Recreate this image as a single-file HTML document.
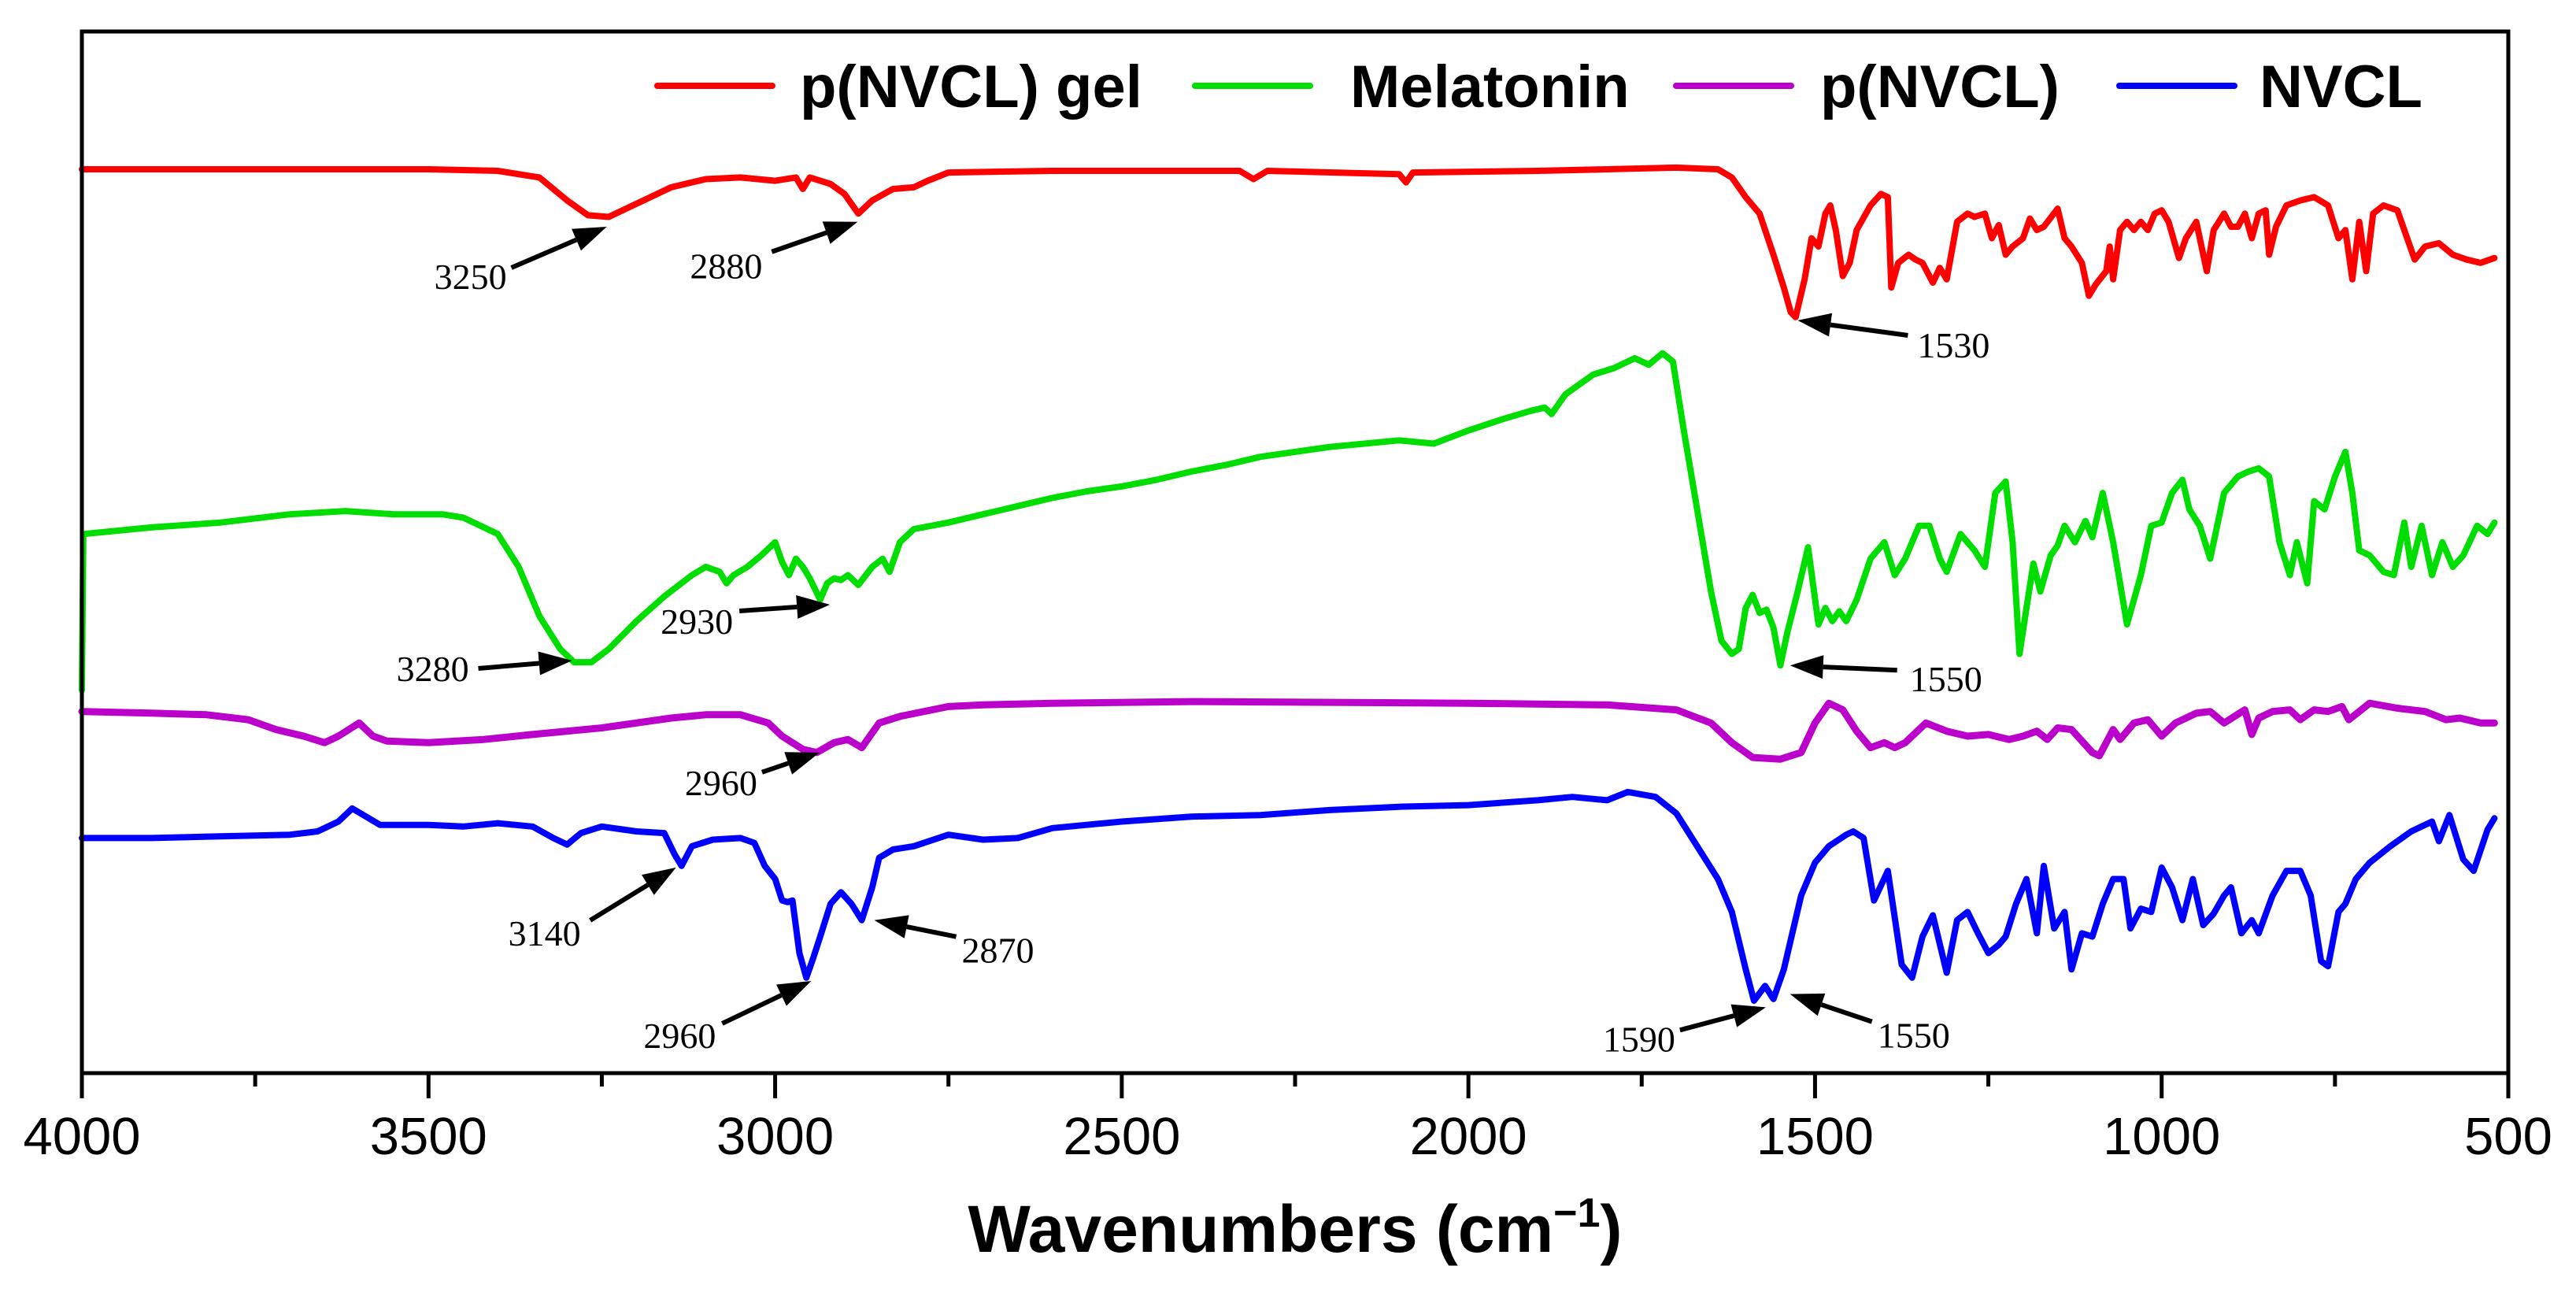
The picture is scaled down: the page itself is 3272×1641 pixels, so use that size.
<!DOCTYPE html>
<html><head><meta charset="utf-8"><style>
html,body{margin:0;padding:0;background:#fff;}
svg{display:block;}
</style></head>
<body>
<svg id="chart" width="3272" height="1641" viewBox="0 0 3272 1641" xmlns="http://www.w3.org/2000/svg">
<rect x="0" y="0" width="3272" height="1641" fill="#fff"/>
<g id="series"></g>
<g id="annots"></g>
<rect x="104" y="40" width="3082" height="1323" fill="none" stroke="#000" stroke-width="5"/>
<g id="axis"></g>
<g font-family="Liberation Sans, Arial, sans-serif" font-weight="bold" font-size="76">
 <line x1="835" y1="109" x2="981" y2="109" stroke="#ff0000" stroke-width="8" stroke-linecap="round"/>
 <text x="1016" y="136">p(NVCL) gel</text>
 <line x1="1518" y1="109" x2="1664" y2="109" stroke="#00dd00" stroke-width="8" stroke-linecap="round"/>
 <text x="1715" y="136">Melatonin</text>
 <line x1="2129" y1="109" x2="2275" y2="109" stroke="#bb00cc" stroke-width="8" stroke-linecap="round"/>
 <text x="2312" y="136">p(NVCL)</text>
 <line x1="2692" y1="109" x2="2838" y2="109" stroke="#0000ff" stroke-width="8" stroke-linecap="round"/>
 <text x="2870" y="136">NVCL</text>
</g>
<text x="1645" y="1590" text-anchor="middle" font-family="Liberation Sans, Arial, sans-serif" font-weight="bold" font-size="84">Wavenumbers (cm<tspan font-size="52" dy="-32">−1</tspan><tspan dy="32">)</tspan></text>
</svg>
<script>
// Offset signal values (inverted vertical axis, arbitrary units)
const redWn = [4000,3800,3500,3400,3340,3300,3270,3240,3200,3150,3100,3050,3000,2970,2960,2950,2920,2900,2880,2860,2830,2800,2780,2750,2600,2400,2330,2310,2290,2100,2090,2080,1900,1800,1700,1640,1620,1600,1580,1560,1545,1535,1528,1515,1505,1495,1485,1478,1470,1460,1450,1440,1420,1405,1395,1390,1380,1365,1355,1345,1330,1320,1310,1295,1280,1270,1255,1245,1235,1225,1215,1200,1190,1180,1170,1150,1140,1130,1115,1105,1095,1080,1075,1070,1060,1050,1040,1030,1020,1010,1000,990,975,965,950,935,925,910,900,890,880,870,860,850,845,835,820,800,780,760,745,735,725,715,705,695,680,660,650,635,620,600,580,560,540,520];
const redVal = [103,103,103,104,108,122,131,132,124,114,109,108,110,108,115,108,112,118,130,122,115,114,110,105,104,104,104,109,104,106,111,105,104,103,102,103,108,120,130,155,175,190,193,170,145,150,130,125,140,168,160,140,125,118,120,175,160,155,158,160,172,163,170,135,130,132,130,145,137,155,150,145,133,140,138,127,145,150,160,180,173,165,150,170,140,135,140,135,140,130,128,135,157,145,135,165,140,130,138,138,130,145,130,128,155,138,125,122,120,125,145,140,170,135,165,130,125,128,140,158,150,148,155,158,160,157];
const greenWn = [4000,3998,3900,3800,3700,3620,3550,3480,3450,3400,3370,3340,3310,3290,3265,3240,3200,3160,3120,3100,3080,3070,3060,3040,3020,3000,2990,2980,2970,2960,2950,2935,2925,2915,2905,2895,2880,2860,2845,2835,2820,2800,2750,2700,2650,2600,2550,2500,2450,2400,2350,2300,2250,2200,2150,2100,2050,2000,1950,1910,1890,1880,1860,1820,1790,1760,1740,1720,1705,1690,1670,1650,1635,1620,1610,1600,1590,1580,1570,1560,1550,1540,1525,1510,1495,1485,1475,1465,1455,1440,1420,1400,1385,1370,1350,1335,1320,1310,1290,1270,1255,1240,1225,1215,1205,1195,1185,1175,1160,1150,1140,1125,1110,1100,1085,1070,1050,1030,1015,1000,985,970,960,945,930,910,890,875,860,845,830,815,805,790,780,765,750,735,725,715,700,680,665,650,640,625,610,595,580,565,545,530,520];
const greenVal = [420,325,321,318,313,311,313,313,315,325,345,375,395,403,403,395,378,363,350,345,348,355,350,345,338,330,342,350,340,345,352,365,355,352,353,350,356,345,340,348,330,322,318,313,308,303,299,296,292,287,283,278,275,272,270,268,270,262,255,250,248,252,240,228,224,218,222,215,220,260,310,360,390,398,395,370,362,373,371,382,405,385,360,333,380,370,378,372,378,365,340,330,350,340,320,320,340,348,325,335,345,300,293,330,398,370,343,360,338,332,320,330,317,327,300,330,380,350,320,318,300,292,310,320,340,300,290,287,285,290,330,350,330,355,305,310,290,275,300,335,338,348,350,318,345,320,350,330,345,338,320,325,318];
const purpleWn = [4000,3900,3820,3760,3720,3680,3650,3630,3600,3580,3560,3500,3420,3350,3250,3150,3100,3050,3010,2990,2960,2940,2915,2895,2875,2850,2820,2750,2700,2600,2400,2000,1800,1700,1650,1620,1590,1550,1520,1500,1480,1460,1440,1420,1400,1385,1370,1340,1310,1280,1250,1220,1200,1180,1165,1150,1130,1100,1090,1070,1060,1040,1020,1000,980,950,930,910,880,870,860,840,815,800,780,760,740,730,700,660,620,590,570,540,520];
const purpleVal = [433,434,435,438,444,448,452,448,440,448,451,452,450,447,443,437,435,435,440,448,456,458,452,450,455,440,436,430,429,428,427,428,429,432,440,452,461,462,458,440,428,432,445,455,452,455,452,440,445,448,447,450,448,445,450,443,444,458,460,444,450,440,438,448,440,434,433,440,432,447,437,433,432,438,432,433,430,438,428,431,433,438,437,440,440];
const blueWn = [4000,3900,3800,3700,3660,3630,3610,3590,3570,3500,3450,3400,3350,3320,3300,3280,3250,3200,3160,3145,3135,3120,3090,3050,3030,3015,3000,2990,2982,2975,2965,2955,2945,2935,2920,2905,2890,2875,2860,2850,2830,2800,2750,2700,2650,2600,2500,2400,2300,2200,2100,2000,1900,1850,1800,1770,1730,1700,1670,1640,1620,1600,1588,1572,1560,1545,1520,1500,1480,1455,1445,1430,1415,1395,1375,1360,1345,1330,1310,1295,1280,1265,1250,1235,1225,1210,1195,1180,1170,1155,1140,1130,1115,1100,1085,1070,1055,1045,1030,1015,1000,985,970,955,940,925,910,900,885,870,860,840,820,800,785,770,760,745,735,720,700,670,640,610,600,585,565,550,530,520];
const blueVal = [510,510,509,508,506,500,492,497,502,502,503,501,503,510,514,507,503,506,507,520,527,515,511,510,513,527,535,548,549,548,580,595,583,570,550,543,550,560,540,522,517,515,508,511,510,504,500,497,496,493,491,490,487,485,487,482,485,495,515,535,555,590,609,600,608,590,545,525,515,508,506,510,548,530,587,595,570,557,592,560,555,568,580,575,570,550,535,568,527,565,555,590,568,570,550,535,535,565,553,555,528,540,560,535,563,556,545,540,568,560,568,545,530,530,545,585,588,555,550,535,525,515,506,500,512,496,523,530,505,498];
const xTicks = [4000,3500,3000,2500,2000,1500,1000,500];
const xTickLabels = ["4000","3500","3000","2500","2000","1500","1000","500"];
const xMinor = [3750,3250,2750,2250,1750,1250,750];
const annLabels = ["3250","2880","1530","3280","2930","1550","2960","3140","2960","2870","1590","1550"];
const annWn = [3243,2881,1525,3293,2921,1536,2936,3143,2948,2857,1571,1536];
const annVal = [138,135,195,402,368,405,458,528,597,560,613,605];

const NS="http://www.w3.org/2000/svg";
const X0=104, X1=3186;
function xScale(w){return X0+(4000-w)/3500*(X1-X0);}
function yScale(v){return v*2.087;}

const seriesG=document.getElementById('series');
function drawSeries(wn,val,color,name,w){
  const p=document.createElementNS(NS,'path');
  let d='';
  for(let i=0;i<wn.length;i++){d+=(i?'L':'M')+xScale(wn[i]).toFixed(1)+' '+yScale(val[i]).toFixed(1);}
  p.setAttribute('d',d);
  p.setAttribute('fill','none');
  p.setAttribute('stroke',color);
  p.setAttribute('stroke-width',w);
  p.setAttribute('stroke-linejoin','round');
  p.setAttribute('stroke-linecap','round');
  
  
  seriesG.appendChild(p);
}
drawSeries(redWn,redVal,'#ff0000','series-pnvcl-gel',8);
drawSeries(greenWn,greenVal,'#00dd00','series-melatonin',8);
drawSeries(purpleWn,purpleVal,'#bb00cc','series-pnvcl',9);
drawSeries(blueWn,blueVal,'#0000ff','series-nvcl',8);

const axisG=document.getElementById('axis');
const YB=1363;
xTicks.forEach((t,i)=>{
  const l=document.createElementNS(NS,'line');
  l.setAttribute('x1',xScale(t));l.setAttribute('x2',xScale(t));
  l.setAttribute('y1',YB);l.setAttribute('y2',YB+32);
  l.setAttribute('stroke','#000');l.setAttribute('stroke-width','5');
  
  
  axisG.appendChild(l);
  const tx=document.createElementNS(NS,'text');
  tx.setAttribute('x',xScale(t));tx.setAttribute('y',1466);
  tx.setAttribute('text-anchor','middle');
  tx.setAttribute('font-family','Liberation Sans, Arial, sans-serif');
  tx.setAttribute('font-size','67');
  tx.textContent=xTickLabels[i];
  
  
  axisG.appendChild(tx);
});
xMinor.forEach(t=>{
  const l=document.createElementNS(NS,'line');
  l.setAttribute('x1',xScale(t));l.setAttribute('x2',xScale(t));
  l.setAttribute('y1',YB);l.setAttribute('y2',YB+17);
  l.setAttribute('stroke','#000');l.setAttribute('stroke-width','5');
  
  
  axisG.appendChild(l);
});

// annotation geometry: tail offset and text centre offset (px) relative to tip
const annTail=[[-121,52],[-109,38],[140,19],[-119,10],[-115,8],[136,6],[-73,25],[-109,67],[-113,54],[104,21],[-109,29],[104,35]];
const annText=[[-173,63],[-167,56],[198,31],[-177,10],[-169,21],[198,17],[-125,38],[-167,83],[-167,69],[157,38],[-161,40],[157,52]];
const annG=document.getElementById('annots');
annLabels.forEach((lab,i)=>{
  const tx0=xScale(annWn[i]), ty0=yScale(annVal[i]);
  const sx=tx0+annTail[i][0], sy=ty0+annTail[i][1];
  const dx=tx0-sx, dy=ty0-sy, L=Math.hypot(dx,dy), ux=dx/L, uy=dy/L;
  const hl=42, hw=15;
  const bx=tx0-ux*hl, by=ty0-uy*hl;
  const g=document.createElementNS(NS,'g');
  
  
  const ln=document.createElementNS(NS,'line');
  ln.setAttribute('x1',sx);ln.setAttribute('y1',sy);ln.setAttribute('x2',bx);ln.setAttribute('y2',by);
  ln.setAttribute('stroke','#000');ln.setAttribute('stroke-width','6');
  
  
  g.appendChild(ln);
  const pg=document.createElementNS(NS,'polygon');
  pg.setAttribute('points',`${tx0},${ty0} ${bx-uy*hw},${by+ux*hw} ${bx+uy*hw},${by-ux*hw}`);
  pg.setAttribute('fill','#000');
  
  
  g.appendChild(pg);
  const t=document.createElementNS(NS,'text');
  t.setAttribute('x',tx0+annText[i][0]);t.setAttribute('y',ty0+annText[i][1]+16);
  t.setAttribute('text-anchor','middle');
  t.setAttribute('font-family','Liberation Serif, Times New Roman, serif');
  t.setAttribute('font-size','46');
  t.textContent=lab;
  
  
  g.appendChild(t);
  annG.appendChild(g);
});
</script>
</body></html>
